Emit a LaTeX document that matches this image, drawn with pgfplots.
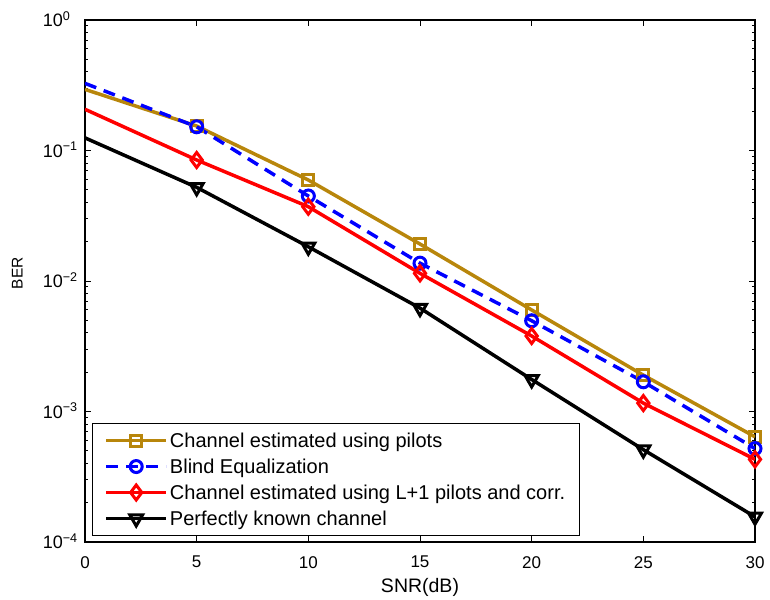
\documentclass[border=0pt]{standalone}
\usepackage{pgfplots}
\pgfplotsset{compat=1.18}
\usepackage{fontspec}
\setmainfont{Liberation Sans}
\definecolor{gold}{RGB}{184,134,11}
\begin{document}
\begin{tikzpicture}
\begin{axis}[
  scale only axis, width=670bp, height=522bp,
  ymode=log, xmin=0, xmax=30, ymin=1e-4, ymax=1,
  xtick={0,5,...,30},
  ytick={1e-4,1e-3,1e-2,1e-1,1},
  yticklabels={10\rlap{\textsuperscript{−4}},10\rlap{\textsuperscript{−3}},10\rlap{\textsuperscript{−2}},10\rlap{\textsuperscript{−1}},10\rlap{\textsuperscript{0}}},
  /pgf/number format/assume math mode=true,
  axis line style={line width=1.2bp},
  every tick/.style={black, line width=1bp},
  major tick length=6bp, minor tick length=3.5bp,
  tick align=inside,
  xticklabel style={font=\fontsize{17bp}{20bp}\selectfont, anchor=north, inner sep=0pt, yshift=-14bp},
  yticklabel style={font=\fontsize{18bp}{21bp}\selectfont, anchor=base east, inner sep=0pt, xshift=-22bp, yshift=-6.5bp},
  xlabel={SNR(dB)},
  xlabel style={font=\fontsize{19.5bp}{23bp}\selectfont, at={(axis description cs:0.5,0)}, anchor=base, yshift=-50bp},
  ylabel={BER},
  ylabel style={font=\fontsize{15.5bp}{18bp}\selectfont, at={(axis description cs:-0.093,0.515)}, anchor=base},
  legend cell align=left,
  legend style={at={(rel axis cs:0.0104,0.0115)}, anchor=south west, draw=black, line width=1bp,
    font=\fontsize{20bp}{24bp}\selectfont, inner xsep=12bp, inner ysep=7bp, nodes={inner sep=2bp}, row sep=6bp},
  legend image code/.code={\draw[mark indices={2}] plot coordinates {(0bp,0bp) (30bp,0bp) (60bp,0bp)};},
]
\addplot[gold, line width=3.5bp, mark=square, mark size=5.5bp, mark indices={2,...,7}, mark options={solid, line width=3bp}]
coordinates {(0,0.294) (5,0.154) (10,0.0594) (15,0.0192) (20,0.0060) (25,0.0019) (30,6.4e-4)};
\addlegendentry{Channel estimated using pilots}
\addplot[blue, line width=3.5bp, dash pattern=on 12bp off 8bp, mark=o, mark size=6bp, mark indices={2,...,7}, mark options={solid, line width=3bp}]
coordinates {(0,0.327) (5,0.152) (10,0.0448) (15,0.0137) (20,0.00496) (25,0.00169) (30,5.2e-4)};
\addlegendentry{Blind Equalization}
\addplot[red, line width=3.5bp, mark=diamond, mark size=7.5bp, mark indices={2,...,7}, mark options={solid, line width=3bp}]
coordinates {(0,0.207) (5,0.0846) (10,0.0371) (15,0.01145) (20,0.00379) (25,0.00116) (30,4.3e-4)};
\addlegendentry{Channel estimated using L+1 pilots and corr.}
\addplot[black, line width=3.5bp, mark=triangle, mark size=7.5bp, mark indices={2,...,7}, mark options={solid, line width=3bp, rotate=180}]
coordinates {(0,0.125) (5,0.0522) (10,0.0183) (15,0.0062) (20,0.00176) (25,5.1e-4) (30,1.56e-4)};
\addlegendentry{Perfectly known channel}
\end{axis}
\pgfresetboundingbox
\path (current axis.south west) ++(-85bp,-58bp) rectangle ++(770bp,600bp);
\end{tikzpicture}
\end{document}
